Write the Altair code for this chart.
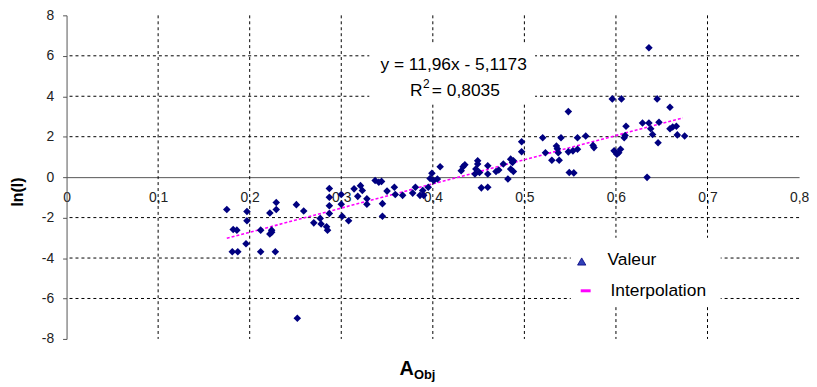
import altair as alt
import pandas as pd

# ---- data ----
x_vals = [0.175, 0.197, 0.197, 0.182, 0.186, 0.196, 0.181, 0.187, 0.212, 0.212,
          0.222, 0.229, 0.229, 0.224, 0.222, 0.224, 0.228, 0.251, 0.252, 0.259,
          0.287, 0.287, 0.287, 0.300, 0.300, 0.314, 0.321, 0.323, 0.318, 0.328,
          0.328, 0.337, 0.341, 0.344, 0.345, 0.350, 0.358, 0.359, 0.367, 0.381,
          0.378, 0.389, 0.270, 0.277, 0.278, 0.284, 0.287, 0.301, 0.308, 0.345,
          0.285, 0.399, 0.397, 0.401, 0.405, 0.395, 0.386, 0.390, 0.408, 0.433,
          0.435, 0.431, 0.449, 0.449, 0.447, 0.446, 0.451, 0.460, 0.460, 0.469,
          0.472, 0.477, 0.485, 0.487, 0.488, 0.485, 0.488, 0.482, 0.453, 0.460,
          0.497, 0.497, 0.636, 0.596, 0.606, 0.645, 0.659, 0.548, 0.520, 0.540,
          0.558, 0.567, 0.611, 0.610, 0.609, 0.629, 0.636, 0.638, 0.640, 0.647,
          0.646, 0.659, 0.662, 0.666, 0.667, 0.675, 0.535, 0.536, 0.537, 0.523,
          0.530, 0.538, 0.548, 0.553, 0.558, 0.575, 0.576, 0.549, 0.554, 0.598,
          0.601, 0.603, 0.605, 0.634]
y_vals = [-1.60, -1.70, -2.16, -2.59, -2.62, -3.29, -3.69, -3.69, -2.62, -3.69,
          -1.77, -1.25, -1.60, -2.62, -2.81, -2.72, -3.69, -1.36, -6.98, -1.67,
          -0.56, -0.99, -1.41, -0.86, -1.34, -0.58, -0.42, -0.66, -0.95, -1.07,
          -1.34, -0.17, -0.25, -0.21, -1.31, -0.69, -0.50, -0.86, -0.90, -0.50,
          -0.79, -0.66, -2.26, -2.04, -2.32, -2.45, -1.80, -1.93, -2.16, -1.93,
          -2.62, 0.19, -0.07, -0.17, -0.09, -0.50, -0.90, -0.90, 0.51, 0.51,
          0.61, 0.32, 0.81, 0.65, 0.40, 0.16, 0.23, 0.56, 0.16, 0.28,
          0.35, 0.65, 0.89, 0.72, 0.81, 0.40, 0.28, -0.09, -0.53, -0.50,
          1.75, 1.26, 6.40, 3.87, 3.87, 3.87, 3.46, 3.24, 1.95, 1.95,
          1.95, 2.03, 2.52, 2.06, 1.95, 2.68, 2.68, 2.39, 2.11, 2.71,
          1.70, 2.39, 2.48, 2.52, 2.09, 2.03, 1.54, 1.41, 1.21, 1.21,
          0.84, 0.84, 1.25, 1.30, 1.38, 1.57, 1.46, 0.23, 0.21, 1.30,
          1.13, 1.21, 1.38, -0.01]

trend_x = [0.175, 0.673]
trend_y = [-3.024, 2.932]          # y = 11,96x - 5,1173 at the two ends

x_grid = [0.1, 0.2, 0.3, 0.4, 0.5, 0.6, 0.7]
y_grid = [6, 4, 2, -2, -4, -6]
x_ticks = [0, 0.1, 0.2, 0.3, 0.4, 0.5, 0.6, 0.7, 0.8]
y_ticks = [-8, -6, -4, -2, 0, 2, 4, 6, 8]

equation_text = "y = 11,96x - 5,1173"
r2_parts = ["R", "2", "= 0,8035"]
y_title = "ln(I)"
x_title_main = "A"
x_title_sub = "Obj"
legend_labels = ["Valeur", "Interpolation"]

# ---- chart ----
W, H = 738, 326
FONT = "Liberation Sans"
xs = alt.Scale(domain=[0, 0.8], nice=False, zero=False)
ys = alt.Scale(domain=[-8, 8], nice=False, zero=False)

xax = alt.Axis(
    values=x_ticks, grid=False, offset=-163, domainColor="#555555",
    ticks=False, tickSize=0, labelPadding=14, labelFont=FONT,
    labelFontSize=14, labelColor="#222222", labelFlush=False,
    labelOverlap=False, title=None,
    labelExpr="datum.value == 0 ? '0' : replace(format(datum.value, '.1f'), '.', ',')",
)
yax = alt.Axis(
    values=y_ticks, grid=False, domainColor="#555555", tickColor="#555555",
    tickSize=4, labelPadding=9, labelFont=FONT, labelFontSize=14,
    labelColor="#222222", labelExpr="'' + datum.value", title=None,
)

one = pd.DataFrame({"k": [0]})

vgrid = alt.Chart(pd.DataFrame({"x": x_grid})).mark_rule(
    color="black", strokeDash=[3, 3], strokeWidth=1
).encode(x=alt.X("x:Q", scale=xs, axis=xax))

hgrid = alt.Chart(pd.DataFrame({"y": y_grid})).mark_rule(
    color="black", strokeDash=[3, 3], strokeWidth=1
).encode(y=alt.Y("y:Q", scale=ys, axis=yax))

eq_box = alt.Chart(one).mark_rect(color="white").encode(
    x=alt.value(305), x2=alt.value(472), y=alt.value(28), y2=alt.value(88)
)
leg_box = alt.Chart(one).mark_rect(color="white").encode(
    x=alt.value(508), x2=alt.value(659), y=alt.value(224), y2=alt.value(293)
)

trend = alt.Chart(pd.DataFrame({"x": trend_x, "y": trend_y})).mark_line(
    color="#FF00FF", strokeDash=[3, 2], strokeWidth=1.6
).encode(
    x=alt.X("x:Q", scale=xs, axis=xax),
    y=alt.Y("y:Q", scale=ys, axis=yax),
)

points = alt.Chart(pd.DataFrame({"x": x_vals, "y": y_vals})).mark_point(
    shape="diamond", filled=True, color="#000080", size=58, opacity=1
).encode(
    x=alt.X("x:Q", scale=xs, axis=xax),
    y=alt.Y("y:Q", scale=ys, axis=yax),
)

def txt(s, x, y, size, bold=False, align="left", angle=0):
    kw = dict(text=s, font=FONT, fontSize=size, color="black", align=align,
              baseline="alphabetic", fontWeight="bold" if bold else "normal")
    if angle:
        kw["angle"] = angle
    return alt.Chart(one).mark_text(**kw).encode(x=alt.value(x), y=alt.value(y))

eq1 = txt(equation_text, 390, 55.5, 17.5, align="center")
eq2a = txt(r2_parts[0], 346, 81, 17.5)
eq2b = txt(r2_parts[1], 359, 73.5, 12)
eq2c = txt(r2_parts[2], 368, 81, 17.5)
ytit = txt(y_title, -44, 178, 16, bold=True, align="center", angle=270)
xt1 = txt(x_title_main, 335.5, 362.8, 20, bold=True)
xt2 = txt(x_title_sub, 350, 366.4, 13, bold=True)

leg_tri = alt.Chart(one).mark_point(
    shape="triangle-up", filled=True, fill="#3040B8", stroke="#000080",
    strokeWidth=0.8, size=70, opacity=1
).encode(x=alt.value(519), y=alt.value(248))
leg_dash = alt.Chart(one).mark_rule(color="#FF00FF", strokeWidth=3).encode(
    x=alt.value(518), x2=alt.value(528), y=alt.value(277.5)
)
leg_t1 = txt(legend_labels[0], 545, 251.5, 17.5)
leg_t2 = txt(legend_labels[1], 548, 283, 17.5)

chart = alt.layer(
    vgrid, hgrid, eq_box, leg_box, trend, points,
    eq1, eq2a, eq2b, eq2c, ytit, xt1, xt2, leg_tri, leg_dash, leg_t1, leg_t2
).properties(
    width=W, height=H,
    padding={"left": 59, "top": 6, "right": 10, "bottom": 45},
    autosize=alt.AutoSizeParams(type="none"),
    background="white",
).configure_view(stroke=None)

chart.save("out.html", embed_options={"renderer": "svg", "actions": False})
